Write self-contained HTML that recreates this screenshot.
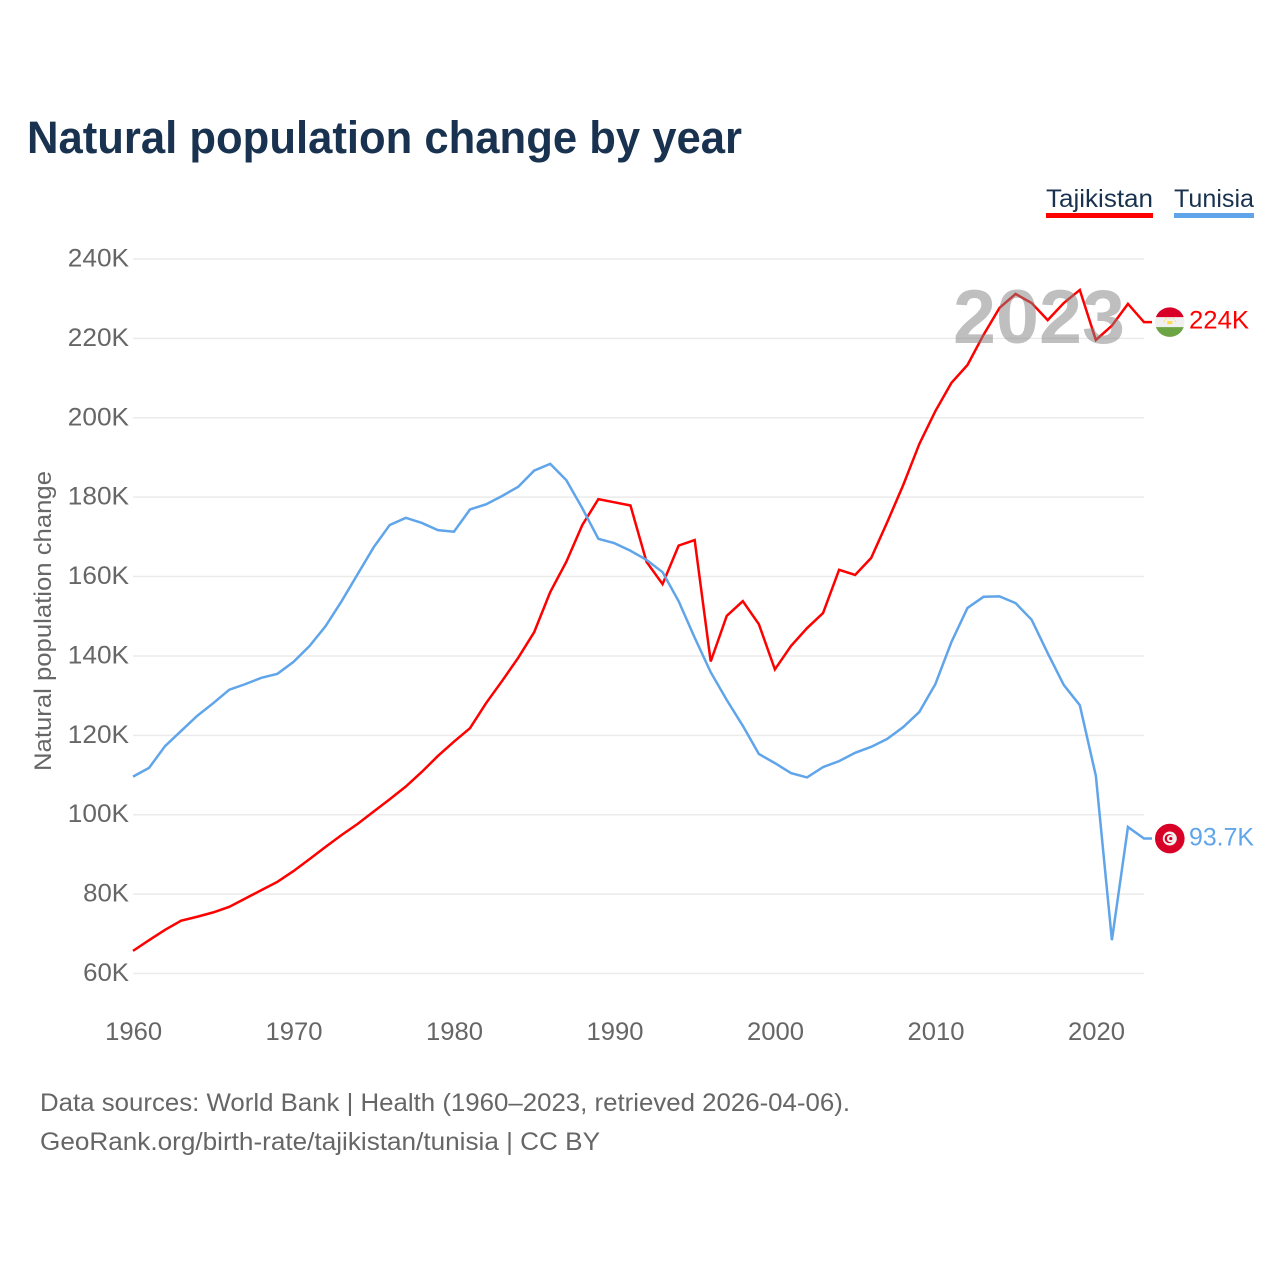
<!DOCTYPE html>
<html lang="en">
<head>
<meta charset="utf-8">
<title>Natural population change by year</title>
<style>
  html, body { margin: 0; padding: 0; background: #fff; }
  svg { display: block; font-family: "Liberation Sans", Arial, sans-serif; }
</style>
</head>
<body>
<svg id="chart" xmlns="http://www.w3.org/2000/svg" width="1280" height="1280" viewBox="0 0 1280 1280">
  <rect width="1280" height="1280" fill="#ffffff"/>
  <text x="27" y="153" font-size="45" font-weight="700" fill="#18324f" textLength="715" lengthAdjust="spacingAndGlyphs">Natural population change by year</text>

  <g>
    <text x="1046" y="207" font-size="25" fill="#18324f" textLength="107" lengthAdjust="spacingAndGlyphs">Tajikistan</text>
    <rect x="1046" y="213" width="107" height="5" fill="#ff0000"/>
  </g>
  <g>
    <text x="1174" y="207" font-size="25" fill="#18324f" textLength="80" lengthAdjust="spacingAndGlyphs">Tunisia</text>
    <rect x="1174" y="213" width="80" height="5" fill="#60a5ea"/>
  </g>

  <text transform="translate(51,621) rotate(-90)" text-anchor="middle" font-size="24.5" fill="#666666" textLength="300" lengthAdjust="spacingAndGlyphs">Natural population change</text>

  <g id="grid"></g>
  <g id="yTicks"></g>
  <g id="xTicks"></g>
  <g id="series"></g>

  <text x="1039" y="343" text-anchor="middle" font-size="76" font-weight="700" fill="#808080" fill-opacity="0.5" textLength="172" lengthAdjust="spacingAndGlyphs">2023</text>

  <defs>
    <clipPath id="flagClip"><circle cx="0" cy="0" r="14.8"/></clipPath>
  </defs>

  <g id="flagTajikistan">
    <g clip-path="url(#flagClip)">
      <rect x="-15" y="-15" width="30" height="30" fill="#f0f0f0"/>
      <rect x="-15" y="-15" width="30" height="10" fill="#d80027"/>
      <rect x="-15" y="5" width="30" height="10" fill="#6da544"/>
      <rect x="-2.5" y="-1" width="5" height="3" fill="#ffda44"/>
      <path d="M-6 -0.5 L-5 -1.5 M-4 -3 L-3.4 -4 M0 -4.5 L0 -3.5 M4 -3 L3.4 -4 M6 -0.5 L5 -1.5" stroke="#ffda44" stroke-width="1.2" fill="none"/>
    </g>
  </g>
  <g id="flagTunisia">
    <circle cx="0" cy="0" r="14.8" fill="#d80027"/>
    <circle cx="0" cy="0" r="7" fill="#f0f0f0"/>
    <circle cx="-0.6" cy="0" r="4.6" fill="#d80027"/>
    <circle cx="0.7" cy="0" r="3.6" fill="#f0f0f0"/>
    <circle cx="1" cy="0" r="1.6" fill="#d80027"/>
  </g>

  <text id="valueTajikistan" x="1189" font-size="25" fill="#ff0000" textLength="60" lengthAdjust="spacingAndGlyphs"></text>
  <text id="valueTunisia" x="1189" font-size="25" fill="#60a5ea" textLength="65" lengthAdjust="spacingAndGlyphs"></text>

  <text x="40" y="1111" font-size="25" fill="#666666" textLength="810" lengthAdjust="spacingAndGlyphs">Data sources: World Bank | Health (1960–2023, retrieved 2026-04-06).</text>
  <text x="40" y="1150" font-size="25" fill="#666666" textLength="560" lengthAdjust="spacingAndGlyphs">GeoRank.org/birth-rate/tajikistan/tunisia | CC BY</text>
</svg>

<script>
const years = [1960,1961,1962,1963,1964,1965,1966,1967,1968,1969,1970,1971,1972,1973,1974,1975,1976,1977,1978,1979,1980,1981,1982,1983,1984,1985,1986,1987,1988,1989,1990,1991,1992,1993,1994,1995,1996,1997,1998,1999,2000,2001,2002,2003,2004,2005,2006,2007,2008,2009,2010,2011,2012,2013,2014,2015,2016,2017,2018,2019,2020,2021,2022,2023];
const tajikistan = [65.7,68.4,71.0,73.3,74.3,75.4,76.8,78.9,81.0,83.1,85.8,88.8,91.9,94.9,97.7,100.8,103.9,107.1,110.8,114.8,118.4,121.8,128.1,133.7,139.5,146.0,156.1,163.7,173.0,179.5,178.7,177.9,163.7,158.1,167.8,169.2,138.6,150.1,153.8,148.0,136.6,142.5,147.0,150.8,161.7,160.4,164.7,173.7,183.1,193.4,201.7,208.8,213.3,220.9,227.7,231.2,228.9,224.6,228.9,232.2,219.6,223.2,228.7,224.1];
const tunisia = [109.6,111.8,117.3,121.1,124.9,128.1,131.5,132.9,134.5,135.5,138.5,142.5,147.5,153.8,160.6,167.4,173.0,174.8,173.5,171.7,171.3,176.9,178.2,180.3,182.6,186.7,188.4,184.3,177.2,169.5,168.4,166.5,164.2,161.1,153.8,144.6,135.9,128.9,122.4,115.3,113.0,110.5,109.4,112.0,113.5,115.6,117.1,119.1,122.1,125.9,132.9,143.5,152.1,154.9,155.0,153.3,149.1,140.7,132.7,127.6,109.8,68.4,96.9,94.0];
const yTickValues = [60,80,100,120,140,160,180,200,220,240];
const yTickLabels = ["60K","80K","100K","120K","140K","160K","180K","200K","220K","240K"];
const xTickValues = [1960,1970,1980,1990,2000,2010,2020];
const xTickLabels = ["1960","1970","1980","1990","2000","2010","2020"];
const endLabelTajikistan = "224K";
const endLabelTunisia = "93.7K";

const NS = "http://www.w3.org/2000/svg";
const xAxis = function (year) { return 133 + (year - 1960) * (1011 / 63); };
const yAxis = function (value) { return 973.5 - (value - 60) * (714.5 / 180); };

const gridGroup = document.getElementById("grid");
const yTickGroup = document.getElementById("yTicks");
const xTickGroup = document.getElementById("xTicks");
const seriesGroup = document.getElementById("series");

yTickValues.forEach(function (v, i) {
  const line = document.createElementNS(NS, "line");
  
  
  line.setAttribute("x1", 133);
  line.setAttribute("x2", 1144);
  line.setAttribute("y1", yAxis(v));
  line.setAttribute("y2", yAxis(v));
  line.setAttribute("stroke", "#ebebeb");
  line.setAttribute("stroke-width", "1.5");
  gridGroup.appendChild(line);

  const t = document.createElementNS(NS, "text");
  
  
  t.setAttribute("x", 129);
  t.setAttribute("y", yAxis(v) + 7.5);
  t.setAttribute("text-anchor", "end");
  t.setAttribute("font-size", "25");
  t.setAttribute("fill", "#666666");
  t.setAttribute("textLength", yTickLabels[i].length * 15.3);
  t.setAttribute("lengthAdjust", "spacingAndGlyphs");
  t.textContent = yTickLabels[i];
  yTickGroup.appendChild(t);
});

xTickValues.forEach(function (v, i) {
  const t = document.createElementNS(NS, "text");
  
  
  t.setAttribute("x", xAxis(v) + 0.6);
  t.setAttribute("y", 1040);
  t.setAttribute("text-anchor", "middle");
  t.setAttribute("font-size", "25");
  t.setAttribute("fill", "#666666");
  t.setAttribute("textLength", 57);
  t.setAttribute("lengthAdjust", "spacingAndGlyphs");
  t.textContent = xTickLabels[i];
  xTickGroup.appendChild(t);
});

function linePath(values) {
  let d = values.map(function (v, i) {
    return (i ? "L" : "M") + xAxis(years[i]).toFixed(2) + " " + yAxis(v).toFixed(2);
  }).join(" ");
  const last = values[values.length - 1];
  d += " L1152 " + yAxis(last).toFixed(2);
  return d;
}

const lineTunisia = document.createElementNS(NS, "path");


lineTunisia.setAttribute("d", linePath(tunisia));
lineTunisia.setAttribute("fill", "none");
lineTunisia.setAttribute("stroke", "#60a5ea");
lineTunisia.setAttribute("stroke-width", "2.5");
seriesGroup.appendChild(lineTunisia);

const lineTajikistan = document.createElementNS(NS, "path");


lineTajikistan.setAttribute("d", linePath(tajikistan));
lineTajikistan.setAttribute("fill", "none");
lineTajikistan.setAttribute("stroke", "#ff0000");
lineTajikistan.setAttribute("stroke-width", "2.5");
seriesGroup.insertBefore(lineTajikistan, lineTunisia);

const lastTaj = yAxis(tajikistan[tajikistan.length - 1]);
const lastTun = yAxis(tunisia[tunisia.length - 1]);
document.getElementById("flagTajikistan").setAttribute("transform", "translate(1169.8 " + lastTaj + ")");
document.getElementById("flagTunisia").setAttribute("transform", "translate(1169.8 " + lastTun + ")");
const valueTaj = document.getElementById("valueTajikistan");
valueTaj.setAttribute("y", lastTaj + 6.5);
valueTaj.textContent = endLabelTajikistan;
const valueTun = document.getElementById("valueTunisia");
valueTun.setAttribute("y", lastTun + 7);
valueTun.textContent = endLabelTunisia;
</script>
</body>
</html>
